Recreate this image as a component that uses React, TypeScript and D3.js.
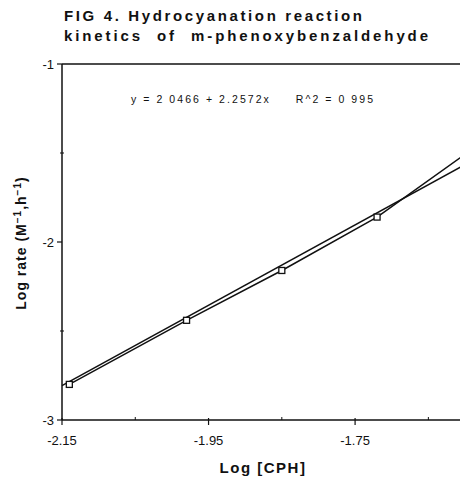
import * as d3 from 'd3';

// measured points (log [CPH], log rate); last one lies past the cropped right edge
const logCph = [-2.14, -1.98, -1.85, -1.72, -1.55];
const logRate = [-2.8, -2.44, -2.16, -1.86, -1.36];

// least squares fit as printed on the figure
const fitIntercept = 2.0466;
const fitSlope = 2.2572;
const fitRange = [-2.15, -1.6];

const xMajor = [-2.15, -1.95, -1.75];
const xMinor = [-2.05, -1.85, -1.65];
const yMajor = [-1, -2, -3];
const yMinor = [-1.5, -2.5];

const titleLines = ['FIG 4. Hydrocyanation reaction', 'kinetics  of  m-phenoxybenzaldehyde'];
const titleWidths = [298, 364];
const equation = 'y = 2 0466 + 2.2572x     R^2 = 0 995';

const W = 460;
const H = 479;
const font = '"Liberation Sans", Arial, Helvetica, sans-serif';

export default function App() {
  const x = d3.scaleLinear().domain([-2.15, -1.6]).range([62, 465]);
  const y = d3.scaleLinear().domain([-3, -1]).range([420, 64]);

  const pts = logCph.map((c, i) => ({ c, r: logRate[i] }));
  const dataLine = d3
    .line<{ c: number; r: number }>()
    .x((d) => x(d.c))
    .y((d) => y(d.r));
  const fitPts = fitRange.map((c) => ({ c, r: fitIntercept + fitSlope * c }));

  const x0 = x(-2.15);
  const yTop = y(-1);
  const yBot = y(-3);

  return (
    <svg
      width={W}
      height={H}
      style={{ position: 'absolute', left: 0, top: 0, background: '#fff' }}
      fontFamily={font}
    >
      {/* title */}
      {titleLines.map((t, i) => (
        <text
          key={i}
          x={64}
          y={21 + i * 20}
          fontSize={15}
          fontWeight="bold"
          textLength={titleWidths[i]}
          lengthAdjust="spacing"
          fill="#111"
          style={{ whiteSpace: 'pre' }}
        >
          {t}
        </text>
      ))}

      {/* frame: top edge, left axis, bottom axis */}
      <line x1={x0} x2={W} y1={yTop} y2={yTop} stroke="#111" strokeWidth={1.5} />
      <line x1={x0} x2={x0} y1={yTop} y2={yBot} stroke="#111" strokeWidth={1.5} />
      <line x1={x0} x2={W} y1={yBot} y2={yBot} stroke="#111" strokeWidth={1.5} />

      {/* y ticks */}
      {yMajor.map((v) => (
        <g key={v}>
          <line x1={x0 - 5} x2={x0} y1={y(v)} y2={y(v)} stroke="#111" strokeWidth={1.2} />
          <text x={x0 - 8} y={y(v)} dy="0.35em" textAnchor="end" fontSize={13} fill="#111">
            {v}
          </text>
        </g>
      ))}
      {yMinor.map((v) => (
        <line key={v} x1={x0 - 2} x2={x0 + 2} y1={y(v)} y2={y(v)} stroke="#111" strokeWidth={1} />
      ))}

      {/* x ticks */}
      {xMajor.map((v) => (
        <g key={v}>
          <line x1={x(v)} x2={x(v)} y1={yBot - 2} y2={yBot + 5} stroke="#111" strokeWidth={1.2} />
          <text x={x(v)} y={yBot + 25} textAnchor="middle" fontSize={13} fill="#111">
            {v.toFixed(2)}
          </text>
        </g>
      ))}
      {xMinor.map((v) => (
        <line key={v} x1={x(v)} x2={x(v)} y1={yBot - 3} y2={yBot} stroke="#111" strokeWidth={1} />
      ))}

      {/* equation */}
      <text
        x={131}
        y={103}
        fontSize={10.5}
        textLength={242}
        lengthAdjust="spacing"
        fill="#111"
        style={{ whiteSpace: 'pre' }}
      >
        {equation}
      </text>

      {/* fit line and data line */}
      <path d={dataLine(fitPts) ?? undefined} fill="none" stroke="#111" strokeWidth={1.5} />
      <path d={dataLine(pts) ?? undefined} fill="none" stroke="#111" strokeWidth={1.5} />
      {pts.map((p, i) => (
        <rect
          key={i}
          x={x(p.c) - 3}
          y={y(p.r) - 3}
          width={6}
          height={6}
          fill="#fff"
          stroke="#111"
          strokeWidth={1.3}
        />
      ))}

      {/* axis titles */}
      <text x={263} y={473} textAnchor="middle" fontSize={15} fontWeight="bold" letterSpacing={1.5} fill="#111">
        Log [CPH]
      </text>
      <text
        transform={`translate(26, 243) rotate(-90)`}
        textAnchor="middle"
        fontSize={14}
        fontWeight="bold"
        letterSpacing={1}
        fill="#111"
      >
        Log rate (M
        <tspan dy={-5} fontSize={10}>−1</tspan>
        <tspan dy={5}>,h</tspan>
        <tspan dy={-5} fontSize={10}>−1</tspan>
        <tspan dy={5}>)</tspan>
      </text>
    </svg>
  );
}
